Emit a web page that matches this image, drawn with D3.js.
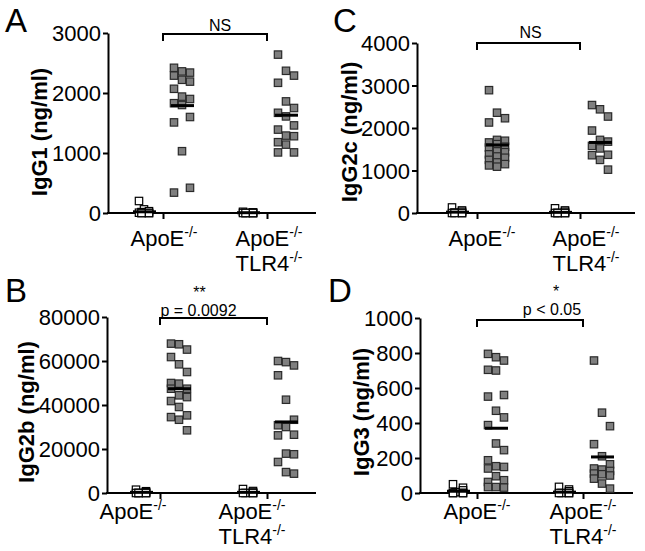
<!DOCTYPE html>
<html><head><meta charset="utf-8">
<script src="https://cdn.jsdelivr.net/npm/d3@7"></script>
<style>
body{margin:0;background:#fff}
svg{display:block}
text{font-family:"Liberation Sans",Arial,Helvetica,sans-serif;fill:#000}
</style>
</head><body>
<svg id="chart" width="645" height="551"></svg>
<script>
// ---------- DATA ----------
const genotypes = ["ApoE", "ApoE TLR4"];
const subgroups = ["control", "immunized"];

// Panel A: IgG1 (ng/ml)
const igg1_apoe_ctrl = [200, 60, 30, 15, 5, 0, 0, 0, 0];
const igg1_apoe_imm = [2420, 2360, 2340, 2290, 2220, 2190, 2070, 1940, 1900, 1830, 1800, 1600, 1510, 1030, 420, 340];
const igg1_tlr4_ctrl = [20, 10, 0, 0, 0, 0, 0, 0];
const igg1_tlr4_imm = [2640, 2370, 2290, 2170, 1860, 1750, 1670, 1610, 1460, 1390, 1290, 1280, 1180, 1140, 1010, 1010];
const igg1_means = [20, 1790, 5, 1630];
const igg1_ticks = [0, 1000, 2000, 3000];

// Panel B: IgG2b (ng/ml)
const igg2b_apoe_ctrl = [1500, 800, 300, 0, 0, 0, 0, 0];
const igg2b_apoe_imm = [67900, 67600, 65200, 61800, 58500, 55000, 50000, 49700, 47400, 47400, 44400, 43600, 41800, 39100, 35300, 34500, 33300, 28500];
const igg2b_tlr4_ctrl = [1800, 900, 200, 0, 0, 0, 0];
const igg2b_tlr4_imm = [60000, 59500, 58000, 53500, 42400, 33300, 30800, 30000, 26500, 26200, 17900, 17600, 14100, 9500, 8800];
const igg2b_means = [300, 47400, 300, 32300];
const igg2b_ticks = [0, 20000, 40000, 60000, 80000];

// Panel C: IgG2c (ng/ml)
const igg2c_apoe_ctrl = [130, 60, 30, 10, 0, 0, 0, 0];
const igg2c_apoe_imm = [2890, 2360, 2230, 2130, 1720, 1700, 1660, 1620, 1560, 1540, 1450, 1430, 1380, 1330, 1300, 1250, 1190, 1150, 1120, 1090];
const igg2c_tlr4_ctrl = [110, 60, 30, 0, 0, 0, 0, 0];
const igg2c_tlr4_imm = [2540, 2440, 2270, 1940, 1720, 1680, 1580, 1520, 1370, 1360, 1250, 1020];
const igg2c_means = [20, 1600, 15, 1660];
const igg2c_ticks = [0, 1000, 2000, 3000, 4000];

// Panel D: IgG3 (ng/ml)
const igg3_apoe_ctrl = [50, 30, 15, 5, 0, 0, 0, 0];
const igg3_apoe_imm = [795, 776, 757, 704, 700, 560, 551, 470, 432, 388, 283, 245, 187, 153, 149, 140, 96, 73, 63, 34, 31, 34];
const igg3_tlr4_ctrl = [35, 20, 10, 0, 0, 0, 0];
const igg3_tlr4_imm = [757, 459, 382, 279, 210, 164, 140, 134, 126, 111, 107, 100, 82, 54, 25];
const igg3_means = [10, 370, 5, 206];
const igg3_ticks = [0, 200, 400, 600, 800, 1000];

// ---------- LAYOUT ----------
const panels = [
  {letter:"A", title:"IgG1 (ng/ml)", ymax:3000, ticks:igg1_ticks, means:igg1_means,
   data:[[igg1_apoe_ctrl, igg1_apoe_imm],[igg1_tlr4_ctrl, igg1_tlr4_imm]],
   left:108, right:316, y0:213, y1:33, xg:[163,267], sub:19,
   titleX:47, titleY:132, labelOff:[1,2], labelY:246, letterX:5, letterY:32,
   bracketY:34, ann:[{t:"NS", dx:5, y:31}]},
  {letter:"B", title:"IgG2b (ng/ml)", ymax:80000, ticks:igg2b_ticks, means:igg2b_means,
   data:[[igg2b_apoe_ctrl, igg2b_apoe_imm],[igg2b_tlr4_ctrl, igg2b_tlr4_imm]],
   left:107, right:316, y0:493, y1:317, xg:[160,267], sub:19,
   titleX:34, titleY:412, labelOff:[-27,-15], labelY:519, letterX:5, letterY:302,
   bracketY:318, ann:[{t:"**", dx:-14, y:298},{t:"p = 0.0092", dx:-15, y:316}]},
  {letter:"C", title:"IgG2c (ng/ml)", ymax:4000, ticks:igg2c_ticks, means:igg2c_means,
   data:[[igg2c_apoe_ctrl, igg2c_apoe_imm],[igg2c_tlr4_ctrl, igg2c_tlr4_imm]],
   left:417, right:635, y0:213, y1:43, xg:[477,580], sub:20,
   titleX:357, titleY:132, labelOff:[5,6], labelY:246, letterX:333, letterY:32,
   bracketY:43, ann:[{t:"NS", dx:2, y:38}]},
  {letter:"D", title:"IgG3 (ng/ml)", ymax:1000, ticks:igg3_ticks, means:igg3_means,
   data:[[igg3_apoe_ctrl, igg3_apoe_imm],[igg3_tlr4_ctrl, igg3_tlr4_imm]],
   left:420, right:633, y0:493, y1:318, xg:[477,583], sub:19,
   titleX:369, titleY:412, labelOff:[0,0], labelY:519, letterX:328, letterY:302,
   bracketY:320, ann:[{t:"*", dx:26, y:297},{t:"p < 0.05", dx:22, y:315}]}
];

const svg = d3.select("#chart");
const SQ = 7.4;

function swarm(vals, cands, y) {
  const placed = [];
  return vals.map((v, i) => {
    const py = y(v);
    let best = cands[0], bestC = Infinity;
    for (let k = 0; k < cands.length; k++) {
      const dx = cands[(k + i) % cands.length];
      const c = placed.filter(q => Math.abs(q.dx - dx) < SQ && Math.abs(q.py - py) < SQ).length;
      if (c < bestC) { bestC = c; best = dx; }
    }
    placed.push({dx: best, py});
    return {v, dx: best, py};
  });
}

function label(g, x, y, main) {
  const t = g.append("text").attr("x", x).attr("y", y).attr("text-anchor", "middle")
    .style("font-size", "22px");
  t.append("tspan").text(main);
  t.append("tspan").attr("dy", -9).style("font-size", "14px").text("-/-");
}

panels.forEach(p => {
  const g = svg.append("g");
  const y = d3.scaleLinear().domain([0, p.ymax]).range([p.y0, p.y1]);
  const xg = d3.scalePoint().domain(genotypes).range(p.xg);
  const xs = d3.scalePoint().domain(subgroups).range([-p.sub, p.sub]);

  // y axis
  const ya = g.append("g").attr("transform", `translate(${p.left},0)`)
    .call(d3.axisLeft(y).tickValues(p.ticks).tickSize(5).tickSizeOuter(0).tickPadding(2).tickFormat(d3.format("d")));
  ya.selectAll("path,line").attr("stroke", "#000").attr("stroke-width", 2);
  ya.selectAll("text").style("font-size", "22px").attr("dy", "0.36em").attr("fill", "#000");

  // x axis
  const xa = g.append("g").attr("transform", `translate(0,${y(0)})`)
    .call(d3.axisBottom(xg).tickSize(6).tickFormat(""));
  xa.select(".domain").remove();
  xa.selectAll("line").attr("stroke", "#000").attr("stroke-width", 2);
  g.append("line").attr("x1", p.left - 1).attr("x2", p.right).attr("y1", y(0)).attr("y2", y(0))
    .attr("stroke", "#000").attr("stroke-width", 2);

  // x labels
  label(g, xg(genotypes[0]) + p.labelOff[0], p.labelY, "ApoE");
  label(g, xg(genotypes[1]) + p.labelOff[1], p.labelY, "ApoE");
  label(g, xg(genotypes[1]) + p.labelOff[1], p.labelY + 25, "TLR4");

  // points
  genotypes.forEach((gen, gi) => {
    subgroups.forEach((sg, si) => {
      const cx = xg(gen) + xs(sg);
      const cands = si === 0 ? [-5, 0, 5, -2.5, 2.5] : [-8, 0, 8];
      const pts = swarm(p.data[gi][si], cands, y);
      g.append("g").selectAll("rect").data(pts).join("rect")
        .attr("x", d => cx + d.dx - SQ / 2).attr("y", d => d.py - SQ / 2)
        .attr("width", SQ).attr("height", SQ)
        .attr("fill", si === 0 ? "#ffffff" : "#7f7f7f")
        .attr("stroke", si === 0 ? "#000" : "#2a2a2a").attr("stroke-width", 1.2);
      const m = p.means[gi * 2 + si];
      g.append("line").attr("x1", cx - 11).attr("x2", cx + 12)
        .attr("y1", y(m)).attr("y2", y(m)).attr("stroke", "#000").attr("stroke-width", 3);
    });
  });

  // bracket
  const bx1 = xg(genotypes[0]), bx2 = xg(genotypes[1]);
  g.append("path").attr("d", `M${bx1},${p.bracketY + 7}V${p.bracketY}H${bx2}V${p.bracketY + 7}`)
    .attr("fill", "none").attr("stroke", "#000").attr("stroke-width", 2);
  const mid = (bx1 + bx2) / 2;
  p.ann.forEach(a => {
    g.append("text").attr("x", mid + a.dx).attr("y", a.y).attr("text-anchor", "middle")
      .style("font-size", "16px").text(a.t);
  });

  // title
  g.append("text").attr("transform", `translate(${p.titleX},${p.titleY}) rotate(-90)`)
    .attr("text-anchor", "middle").style("font-size", "22px").style("font-weight", "bold").text(p.title);

  // panel letter
  g.append("text").attr("x", p.letterX).attr("y", p.letterY).style("font-size", "33px").text(p.letter);
});
</script>
</body></html>
